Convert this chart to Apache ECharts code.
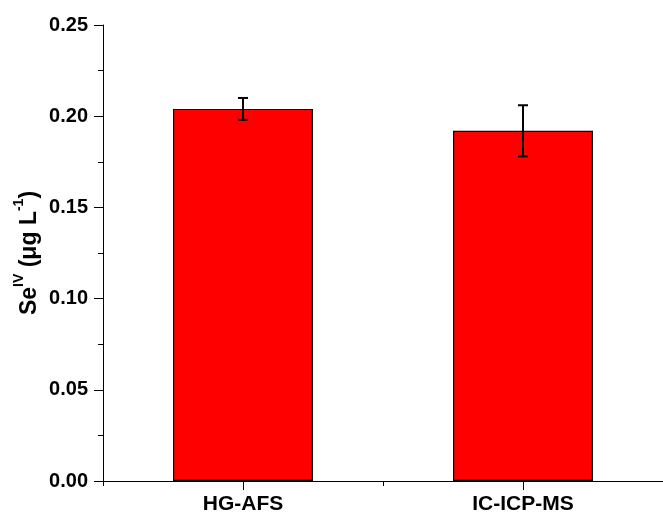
<!DOCTYPE html>
<html>
<head>
<meta charset="utf-8">
<script src="https://cdn.jsdelivr.net/npm/echarts@6/dist/echarts.min.js"></script>
<style>html,body{margin:0;padding:0;background:#fff;}#c{width:663px;height:516px;}</style>
</head>
<body>
<div id="c"></div>
<script>
var categories = ['HG-AFS', 'IC-ICP-MS'];
var values = [0.204, 0.192];
var errors = [0.006, 0.014];
var yTicks = [0, 0.05, 0.10, 0.15, 0.20, 0.25];

var chart = echarts.init(document.getElementById('c'), null, {renderer: 'canvas'});
var font = '"Liberation Sans", Arial, sans-serif';
var errData = categories.map(function (c, i) { return [i, values[i] - errors[i], values[i] + errors[i]]; });

chart.setOption({
  animation: false,
  backgroundColor: '#fff',
  grid: {left: 103, right: -6, top: 25, bottom: 35, containLabel: false},
  xAxis: [{
    type: 'category', data: categories, position: 'bottom',
    axisLine: {lineStyle: {color: '#000', width: 1}},
    axisTick: {show: true, alignWithLabel: true, length: 9, lineStyle: {color: '#000'}},
    axisLabel: {color: '#000', fontFamily: font, fontWeight: 'bold', fontSize: 21, margin: 13}
  }, {
    type: 'category', data: categories, position: 'bottom',
    axisLine: {show: false},
    axisTick: {show: true, length: 5, lineStyle: {color: '#000'}},
    axisLabel: {show: false}
  }],
  yAxis: {
    type: 'value', min: yTicks[0], max: yTicks[yTicks.length - 1], interval: 0.05,
    axisLine: {show: true, lineStyle: {color: '#000'}},
    axisTick: {show: true, length: 9, lineStyle: {color: '#000'}},
    minorTick: {show: true, splitNumber: 2, length: 5, lineStyle: {color: '#000'}},
    splitLine: {show: false},
    axisLabel: {color: '#000', fontFamily: font, fontWeight: 'bold', fontSize: 20, margin: 15,
      formatter: function (v) { return v.toFixed(2); }},
    name: '{b|Se}{sup|IV}{b| (μg L}{sup|-1}{b|)}',
    nameLocation: 'middle', nameGap: 62, nameRotate: 90, nameMoveOverlap: false,
    nameTextStyle: {
      color: '#000',
      rich: {
        b: {fontFamily: font, fontWeight: 'bold', fontSize: 23, color: '#000', lineHeight: 29, verticalAlign: 'bottom'},
        sup: {fontFamily: font, fontWeight: 'bold', fontSize: 14, color: '#000', lineHeight: 29, verticalAlign: 'top', padding: [0, 0, 8, 0]}
      }
    }
  },
  series: [{
    type: 'bar', data: values, barWidth: '50%',
    itemStyle: {color: '#ff0000', borderColor: '#000', borderWidth: 1.2}
  }, {
    type: 'custom', data: errData, z: 10,
    renderItem: function (params, api) {
      var x = api.value(0);
      var lo = api.coord([x, api.value(1)]);
      var hi = api.coord([x, api.value(2)]);
      var w = 5;
      var st = {stroke: '#000', lineWidth: 2};
      return {type: 'group', children: [
        {type: 'line', shape: {x1: hi[0], y1: hi[1], x2: lo[0], y2: lo[1]}, style: st},
        {type: 'line', shape: {x1: hi[0] - w, y1: hi[1], x2: hi[0] + w, y2: hi[1]}, style: st},
        {type: 'line', shape: {x1: lo[0] - w, y1: lo[1], x2: lo[0] + w, y2: lo[1]}, style: st}
      ]};
    }
  }]
});
</script>
</body>
</html>
